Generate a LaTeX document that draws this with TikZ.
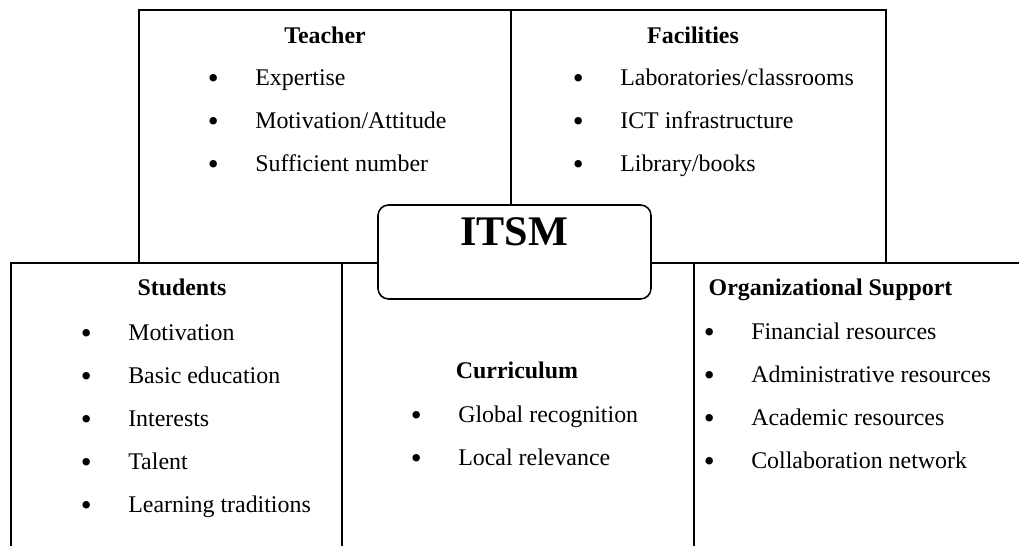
\documentclass[tikz,border=0pt]{standalone}
\usepackage{fontspec}
\setmainfont{Liberation Serif}
\usetikzlibrary{positioning}

\newcommand{\itm}[1]{\makebox[0.95cm][l]{\raisebox{-0.11em}{\scalebox{1.3}{•}}}#1}

\begin{document}
\begin{tikzpicture}[line width=0.9pt,
  head/.style={font=\fontsize{13.6}{16}\selectfont\bfseries,anchor=base,inner sep=0pt},
  items/.style={font=\fontsize{13.6}{24.5}\selectfont,align=left,anchor=base west,inner sep=0pt}]
\clip (0,0) rectangle (20.38,10.92);
% outer boxes
\draw (2.78,5.66) rectangle (10.22,10.72);
\draw (10.22,5.66) rectangle (17.72,10.72);
\draw (0.22,-1) rectangle (6.84,5.66);
\draw (6.84,-1) rectangle (13.88,5.66);
\draw (13.88,-1) rectangle (21,5.66);
% centre
\node[draw,fill=white,rounded corners=6pt,minimum width=5.46cm,minimum height=1.88cm] (core) at (10.29,5.88) {};
\node[font=\fontsize{24}{28}\selectfont\bfseries,anchor=base,inner sep=0pt] (itsm) at (10.28,6.00) {ITSM};
% top row (lists sit on the baseline of their last line)
\node[head] (teacher) at (6.50,10.04) {Teacher};
\node[items] (teacherlist) at (4.14,7.48) {\itm{Expertise}\\ \itm{Motivation/Attitude}\\ \itm{Sufficient number}};
\node[head] (facil) at (13.86,10.04) {Facilities};
\node[items] (facillist) at (11.44,7.48) {\itm{Laboratories/classrooms}\\ \itm{ICT infrastructure}\\ \itm{Library/books}};
% bottom row
\node[head] (stud) at (3.64,5.00) {Students};
\node[items] (studlist) at (1.60,0.66) {\itm{Motivation}\\ \itm{Basic education}\\ \itm{Interests}\\ \itm{Talent}\\ \itm{Learning traditions}};
\node[head] (curr) at (10.34,3.34) {Curriculum};
\node[items] (currlist) at (8.20,1.60) {\itm{Global recognition}\\ \itm{Local relevance}};
\node[head] (org) at (16.61,5.00) {Organizational Support};
\node[items] (orglist) at (14.06,1.54) {\itm{Financial resources}\\ \itm{Administrative resources}\\ \itm{Academic resources}\\ \itm{Collaboration network}};
\end{tikzpicture}
\end{document}
